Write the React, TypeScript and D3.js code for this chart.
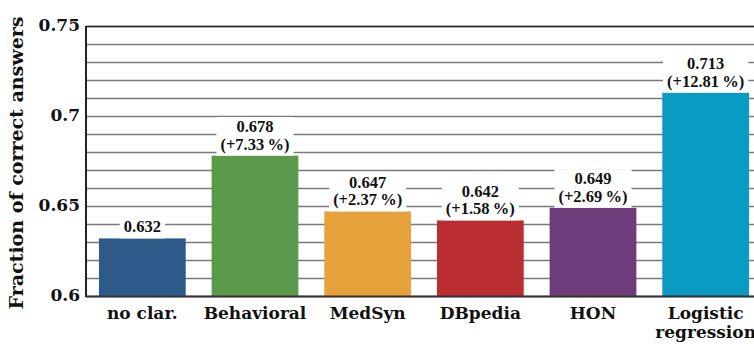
import React, { useEffect, useRef } from "react";
import * as d3 from "d3";

const categories = ["no clar.", "Behavioral", "MedSyn", "DBpedia", "HON", "Logistic\nregression"];
const values = [0.632, 0.678, 0.647, 0.642, 0.649, 0.713];
const valueLabels = ["0.632", "0.678", "0.647", "0.642", "0.649", "0.713"];
const gainLabels = ["", "(+7.33\u2009%)", "(+2.37\u2009%)", "(+1.58\u2009%)", "(+2.69\u2009%)", "(+12.81\u2009%)"];
const colors = ["#2E5A8A", "#5C994A", "#E8A23C", "#BA2E32", "#6E3C7B", "#0B9BC2"];
const yTickValues = [0.6, 0.65, 0.7, 0.75];
const yTickLabels = ["0.6", "0.65", "0.7", "0.75"];

const W = 754;
const H = 344;
const M = { left: 86, top: 26, bottom: 296, right: 762 };

export default function App() {
  const ref = useRef<SVGSVGElement | null>(null);

  useEffect(() => {
    const svg = d3.select(ref.current);
    svg.selectAll("*").remove();

    const x = d3
      .scaleBand<string>()
      .domain(categories)
      .range([M.left, M.right])
      .paddingInner(0.23)
      .paddingOuter(0.115);
    const y = d3.scaleLinear().domain([0.6, 0.75]).range([M.bottom, M.top]);

    const grid = d3.range(0, 16).map((i) => 0.6 + i * 0.01);
    svg
      .append("g")
      .selectAll("line")
      .data(grid)
      .join("line")
      .attr("x1", M.left)
      .attr("x2", W)
      .attr("y1", (d) => Math.round(y(d)) + 0.5)
      .attr("y2", (d) => Math.round(y(d)) + 0.5)
      .attr("stroke", "#7a7a7a")
      .attr("stroke-width", 1.4);

    svg
      .append("g")
      .selectAll("rect")
      .data(values)
      .join("rect")
      .attr("x", (_, i) => x(categories[i])!)
      .attr("width", x.bandwidth())
      .attr("y", (d) => y(d))
      .attr("height", (d) => M.bottom - y(d))
      .attr("fill", (_, i) => colors[i]);

    svg
      .append("line")
      .attr("x1", M.left)
      .attr("x2", M.left)
      .attr("y1", M.top)
      .attr("y2", M.bottom + 1)
      .attr("stroke", "#222")
      .attr("stroke-width", 2);
    svg
      .append("line")
      .attr("x1", M.left)
      .attr("x2", W)
      .attr("y1", M.bottom + 0.5)
      .attr("y2", M.bottom + 0.5)
      .attr("stroke", "#333")
      .attr("stroke-width", 2);
    svg
      .append("line")
      .attr("x1", M.left)
      .attr("x2", W)
      .attr("y1", M.top + 0.5)
      .attr("y2", M.top + 0.5)
      .attr("stroke", "#222")
      .attr("stroke-width", 1.5);

    const lab = svg.append("g");
    values.forEach((v, i) => {
      const cx = x(categories[i])! + x.bandwidth() / 2;
      const top = y(v);
      const g = lab.append("g");
      const rect = g.append("rect").attr("fill", "#fff");
      const hasGain = gainLabels[i] !== "";
      const base = hasGain ? top - 6 - 17.5 : top - 6;
      const mk = (yy: number, s: string) =>
        g
          .append("text")
          .attr("x", cx)
          .attr("y", yy)
          .attr("text-anchor", "middle")
          .attr("font-family", "'Liberation Serif', 'Times New Roman', serif")
          .attr("font-weight", "bold")
          .attr("font-size", 16.5)
          .attr("fill", "#111")
          .text(s);
      const t1 = mk(base, valueLabels[i]);
      const bb = (t1.node() as SVGTextElement).getBBox();
      let x0 = bb.x, x1 = bb.x + bb.width;
      const yTop = bb.y;
      if (hasGain) {
        const t2 = mk(base + 17.5, gainLabels[i]);
        const b2 = (t2.node() as SVGTextElement).getBBox();
        x0 = Math.min(x0, b2.x);
        x1 = Math.max(x1, b2.x + b2.width);
      }
      rect
        .attr("x", x0 - 4)
        .attr("y", yTop)
        .attr("width", x1 - x0 + 8)
        .attr("height", top - yTop);
    });

    const cat = svg.append("g");
    categories.forEach((c, i) => {
      const cx = x(c)! + x.bandwidth() / 2;
      c.split("\n").forEach((line, j) => {
        cat
          .append("text")
          .attr("x", cx)
          .attr("y", 319 + j * 19)
          .attr("text-anchor", "middle")
          .attr("font-family", "'DejaVu Serif', serif")
          .attr("font-weight", "bold")
          .attr("font-size", 17)
          .attr("fill", "#111")
          .text(line);
      });
    });

    svg
      .append("g")
      .selectAll("text")
      .data(yTickValues)
      .join("text")
      .attr("x", 80)
      .attr("y", (d) => y(d) + 5)
      .attr("text-anchor", "end")
      .attr("font-family", "'DejaVu Serif', serif")
      .attr("font-weight", "bold")
      .attr("font-size", 17)
      .attr("fill", "#111")
      .text((_, i) => yTickLabels[i]);

    svg
      .append("text")
      .attr("transform", `translate(23,${(M.top + M.bottom) / 2 + 2}) rotate(-90)`)
      .attr("text-anchor", "middle")
      .attr("font-family", "'DejaVu Serif', serif")
      .attr("font-weight", "bold")
      .attr("font-size", 19)
      .attr("fill", "#111")
      .text("Fraction of correct answers");
  }, []);

  return (
    <svg
      ref={ref}
      width={W}
      height={H}
      style={{ position: "absolute", left: 0, top: 0, background: "#fff" }}
    />
  );
}
